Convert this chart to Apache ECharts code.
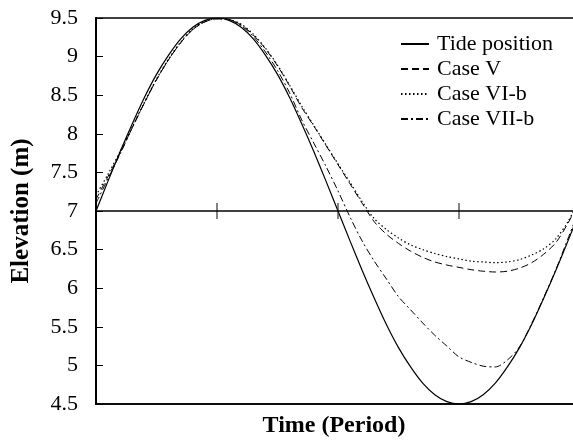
<!DOCTYPE html>
<html>
<head>
<meta charset="utf-8">
<script src="https://cdn.jsdelivr.net/npm/echarts@6/dist/echarts.min.js"></script>
<style>
  html, body { margin: 0; padding: 0; background: #fff; }
  #chart { width: 573px; height: 445px; }
</style>
</head>
<body>
<div id="chart"></div>
<script>
// Time as a fraction of one tidal period
const periodT = [0, 0.025, 0.05, 0.075, 0.1, 0.125, 0.15, 0.175, 0.2, 0.225,
  0.25, 0.275, 0.3, 0.325, 0.35, 0.375, 0.4, 0.425, 0.45, 0.475,
  0.5, 0.525, 0.55, 0.575, 0.6, 0.625, 0.65, 0.675, 0.7, 0.725,
  0.75, 0.775, 0.8, 0.825, 0.85, 0.875, 0.9, 0.925, 0.95, 0.975, 1];

// Elevations (m)
const tidePosition = [7.00, 7.39, 7.77, 8.13, 8.47, 8.77, 9.02, 9.23, 9.38, 9.47,
  9.50, 9.47, 9.38, 9.23, 9.02, 8.77, 8.47, 8.13, 7.77, 7.39,
  7.00, 6.61, 6.23, 5.87, 5.53, 5.23, 4.98, 4.77, 4.62, 4.53,
  4.50, 4.53, 4.62, 4.77, 4.98, 5.23, 5.53, 5.87, 6.23, 6.61, 7.00];

const caseV = [7.15, 7.45, 7.75, 8.08, 8.40, 8.70, 8.96, 9.18, 9.35, 9.45,
  9.49, 9.48, 9.41, 9.28, 9.10, 8.88, 8.62, 8.34, 8.10, 7.85,
  7.60, 7.35, 7.10, 6.86, 6.70, 6.58, 6.48, 6.40, 6.34, 6.30,
  6.27, 6.24, 6.22, 6.21, 6.22, 6.26, 6.33, 6.44, 6.59, 6.84, 7.15];

const caseVIb = [7.20, 7.48, 7.77, 8.09, 8.41, 8.71, 8.97, 9.19, 9.36, 9.46,
  9.49, 9.48, 9.42, 9.29, 9.11, 8.89, 8.63, 8.36, 8.11, 7.86,
  7.61, 7.37, 7.12, 6.90, 6.76, 6.65, 6.56, 6.50, 6.45, 6.41,
  6.38, 6.35, 6.34, 6.33, 6.34, 6.37, 6.43, 6.51, 6.64, 6.86, 7.17];

const caseVIIb = [7.10, 7.42, 7.74, 8.08, 8.40, 8.70, 8.96, 9.18, 9.35, 9.45,
  9.49, 9.48, 9.40, 9.26, 9.06, 8.82, 8.53, 8.18, 7.88, 7.58,
  7.26, 6.92, 6.61, 6.35, 6.12, 5.89, 5.72, 5.55, 5.39, 5.25,
  5.11, 5.04, 4.99, 4.98, 5.07, 5.24, 5.54, 5.88, 6.24, 6.64, 7.05];

// Mean water level and quarter-period marks along it
const meanLevel = 7;
const quarterMarks = [0.25, 0.5, 0.75];

const seriesNames = ['Tide position', 'Case V', 'Case VI-b', 'Case VII-b'];
const yTicks = { min: 4.5, max: 9.5, step: 0.5 };

const FONT = 'Liberation Serif, Times New Roman, serif';

function pairs(ys) { return periodT.map((t, i) => [t, ys[i]]); }

function lineSeries(name, ys, type, width) {
  return {
    name: name,
    type: 'line',
    data: pairs(ys),
    symbol: 'none',
    smooth: 0.3,
    clip: true,
    lineStyle: { color: '#000', width: width, type: type },
    itemStyle: { color: '#000' },
    z: 3
  };
}

const chart = echarts.init(document.getElementById('chart'), null, { renderer: 'canvas' });

const tide = lineSeries(seriesNames[0], tidePosition, 'solid', 1.2);
tide.markLine = {
  silent: true,
  symbol: 'none',
  label: { show: false },
  lineStyle: { color: '#000', width: 1.5, type: 'solid' },
  data: [{ yAxis: meanLevel }]
};

chart.setOption({
  animation: false,
  backgroundColor: '#fff',
  textStyle: { fontFamily: FONT },
  grid: {
    left: 96, top: 18, width: 484, bottom: 41,
    outerBoundsMode: 'none',
    containLabel: false,
    show: true, borderColor: '#000', borderWidth: 1.5, backgroundColor: 'transparent'
  },
  legend: {
    orient: 'vertical',
    left: 400,
    top: 33,
    padding: 0,
    itemGap: 3,
    itemWidth: 28,
    itemHeight: 10,
    data: seriesNames,
    itemStyle: { opacity: 0 },
    textStyle: { fontFamily: FONT, fontSize: 22, color: '#000', lineHeight: 22, padding: [0, 0, 0, 3] }
  },
  xAxis: {
    type: 'value',
    min: 0,
    max: 1,
    interval: 0.25,
    name: 'Time (Period)',
    nameLocation: 'middle',
    nameGap: 10,
    nameTextStyle: { fontFamily: FONT, fontSize: 24, fontWeight: 'bold', color: '#000', verticalAlign: 'top', padding: [0, 8, 0, 0] },
    axisLine: { show: true, lineStyle: { color: '#000', width: 1.5 } },
    axisTick: { show: false },
    axisLabel: { show: false },
    splitLine: { show: false }
  },
  yAxis: {
    type: 'value',
    min: yTicks.min,
    max: yTicks.max,
    interval: yTicks.step,
    name: 'Elevation (m)',
    nameLocation: 'middle',
    nameGap: 62,
    nameRotate: 90,
    nameTextStyle: { fontFamily: FONT, fontSize: 25, fontWeight: 'bold', color: '#000' },
    axisLine: { show: true, lineStyle: { color: '#000', width: 2 } },
    axisTick: { show: true, inside: true, length: 7, lineStyle: { color: '#000', width: 1 } },
    axisLabel: { fontFamily: FONT, fontSize: 22, color: '#000', margin: 18, showMinLabel: true, showMaxLabel: true },
    splitLine: { show: false }
  },
  series: [
    tide,
    lineSeries(seriesNames[1], caseV, [7, 4], 1),
    lineSeries(seriesNames[2], caseVIb, [1.5, 2.5], 1.2),
    lineSeries(seriesNames[3], caseVIIb, [7, 3, 2, 3], 1),
    {
      name: 'quarter marks',
      type: 'scatter',
      data: quarterMarks.map(t => [t, meanLevel]),
      symbol: 'rect',
      symbolSize: [1.5, 16],
      itemStyle: { color: '#333' },
      silent: true,
      z: 4
    }
  ]
});
</script>
</body>
</html>
